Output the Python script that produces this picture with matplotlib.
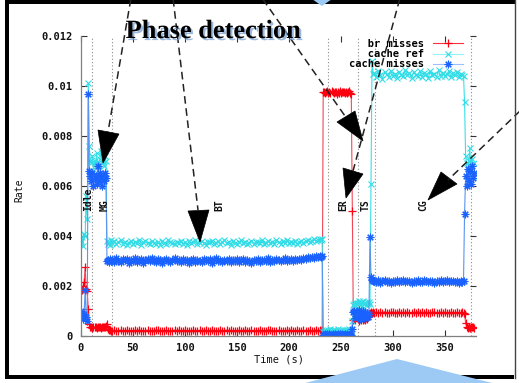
import matplotlib
matplotlib.use("Agg")
import matplotlib.pyplot as plt
from matplotlib.patches import Polygon, Rectangle
from matplotlib.lines import Line2D
import matplotlib.patheffects as pe

plt.rcParams['font.family'] = ['DejaVu Sans Mono']
plt.rcParams['font.weight'] = 'bold'

# ---------------- data (rates in units of 1e-5) ----------------
SCALE = 1e-5
time = (list(range(0, 30)) + list(range(30, 231, 2)) + list(range(231, 282))
        + list(range(282, 367, 2)) + list(range(367, 379)))

br_misses = [
    190, 185, 200, 215, 275, 190, 180, 110, 50, 38, 36, 34, 37, 35, 36, 34, 37, 35, 36, 34,
    37, 35, 36, 38, 40, 48, 30, 24, 23, 22,
    22, 23, 21, 22, 24, 22, 21, 23, 22, 22, 21, 23, 22, 24, 22, 21, 22, 23, 22, 21,
    22, 24, 23, 22, 21, 22, 23, 22, 21, 22, 23, 22, 24, 21, 22, 23, 22, 21, 22, 23,
    22, 21, 23, 22, 22, 24, 21, 22, 23, 22, 21, 22, 23, 22, 21, 24, 22, 23, 21, 22,
    22, 23, 21, 22, 24, 22, 21, 23, 22, 22, 21, 23, 22, 21, 22, 23, 24, 22, 21, 22,
    23, 22, 21, 22, 23, 22, 24, 21, 22, 23, 22, 21, 23, 22, 22, 23, 21, 22, 24, 22, 23,
    22, 23, 975,
    978, 972, 976, 980, 974, 977, 971, 979, 975, 973, 978, 976, 970, 977, 974, 979, 972,
    976, 975, 978, 973, 977, 971, 976, 979, 974, 970,
    500, 66,
    70, 64, 76, 68, 62, 74, 66, 78, 64, 70, 66, 72, 68, 76, 80,
    92, 95, 94, 96,
    94, 96, 92, 95, 93, 97, 94, 91, 95, 96, 93, 94, 97, 92, 95, 94, 96, 93, 91, 95,
    94, 97, 93, 95, 92, 96, 94, 93, 95, 97, 92, 94, 96, 93, 95, 94, 91, 96, 94, 93,
    95, 92, 94,
    95, 93, 90, 52, 36, 34, 37, 33, 36, 35, 38, 34,
]

cache_ref = [
    380, 395, 360, 410, 400, 560, 470, 1010, 760, 700, 690, 720, 660, 700, 680, 730, 690, 670, 710, 740,
    690, 700, 680, 720, 700, 380, 370, 375, 365, 385,
    372, 380, 368, 376, 383, 370, 378, 365, 374, 381, 369, 377, 372, 386, 366, 375, 379, 371, 368, 382,
    374, 370, 377, 365, 380, 373, 369, 384, 376, 371, 367, 378, 374, 381, 370, 376, 363, 379, 372, 377,
    385, 369, 374, 380, 371, 366, 378, 375, 382, 370, 373, 379, 368, 376, 384, 371, 377, 366, 380, 374,
    369, 375, 383, 372, 378, 367, 374, 381, 370, 376, 378, 371, 385, 369, 374, 380, 372, 376, 368, 383,
    375, 370, 379, 373, 386, 371, 377, 374, 380, 369, 376, 382, 374, 379, 385, 377, 381, 388, 380, 386, 390,
    384, 388, 15,
    22, 18, 26, 15, 24, 20, 28, 17, 23, 19, 25, 21, 16, 27, 22, 18, 24, 20, 26, 17,
    23, 19, 25, 21, 28, 18, 22,
    60, 125,
    128, 138, 122, 134, 142, 126, 136, 120, 140, 130, 132, 124, 138, 128, 135,
    130, 610, 1100, 1050,
    1052, 1038, 1060, 1044, 1030, 1055, 1048, 1036, 1062, 1041, 1050, 1034, 1058, 1046, 1039,
    1064, 1043, 1051, 1032, 1057, 1045, 1040, 1061, 1037, 1053, 1048, 1031, 1059, 1044, 1050,
    1036, 1063, 1042, 1054, 1039, 1047, 1060, 1035, 1052, 1043, 1058, 1038, 1049,
    1046, 1040, 935, 720, 690, 650, 700, 750, 680, 710, 640, 690,
]

cache_misses = [
    100, 80, 70, 90, 185, 75, 60, 970, 660, 640, 620, 650, 600, 630, 640, 610, 680, 620, 650, 630,
    600, 640, 620, 650, 630, 300, 305, 295, 310, 300,
    305, 298, 312, 301, 296, 308, 303, 310, 294, 306, 300, 313, 297, 304, 309, 292, 303, 307, 299, 311,
    302, 296, 308, 304, 293, 306, 310, 300, 297, 305, 312, 299, 303, 295, 308, 301, 306, 291, 304, 310,
    298, 305, 302, 296, 309, 303, 300, 307, 294, 305, 311, 299, 304, 297, 306, 302, 308, 295, 303, 300,
    307, 296, 305, 310, 298, 304, 301, 293, 306, 302, 309, 297, 303, 306, 300, 311, 296, 305, 302, 308,
    303, 299, 306, 312, 301, 305, 309, 300, 307, 303, 310, 306, 313, 308, 315, 311, 318, 314, 320, 316, 322,
    318, 322, 6,
    5, 8, 4, 7, 6, 9, 3, 6, 8, 5, 7, 4, 6, 9, 5, 7, 3, 8, 6, 5,
    7, 4, 9, 6, 5, 8, 6,
    30, 95,
    100, 72, 96, 78, 104, 70, 92, 85, 102, 74, 98, 80, 94, 76, 90,
    396, 236, 225, 220,
    220, 216, 223, 214, 219, 225, 217, 221, 213, 222, 218, 224, 215, 220, 226, 216, 219, 222, 214, 221,
    217, 223, 218, 215, 224, 220, 216, 222, 219, 213, 221, 218, 225, 216, 220, 223, 215, 219, 222, 217,
    221, 214, 220,
    218, 222, 490, 640, 600, 670, 620, 660, 610, 680, 630, 650,
]

series_labels = ["   br misses", "   cache ref", "cache misses"]
phase_names = ["Idle", "MG", "BT", "ER", "TS", "CG"]
phase_label_x = [7.2, 22.6, 133, 252.4, 274, 329]
phase_bounds = [10.6, 29.8, 237.6, 266.5, 282.7, 375]
xticks = [0, 50, 100, 150, 200, 250, 300, 350]
yticks = [0, 0.002, 0.004, 0.006, 0.008, 0.010, 0.012]
ytick_labels = ["0", "0.002", "0.004", "0.006", "0.008", "0.01", "0.012"]

# ---------------- figure ----------------
W, H = 519, 383
fig = plt.figure(figsize=(W / 100, H / 100), dpi=100)
fig.patch.set_facecolor('white')
ax = fig.add_axes([81 / W, 1 - 336 / H, (476 - 81) / W, 300 / H])

fs = 7.5
def sc(v):
    return [x * SCALE for x in v]

l1, = ax.plot(time, sc(br_misses), color='#f04858', lw=0.8, marker='+', ms=5.5,
              mec='#ff0010', mew=0.9)
l2, = ax.plot(time, sc(cache_ref), color='#38e0e8', lw=0.8, marker='x', ms=4.8,
              mec='#30dce6', mew=0.8)
l3, = ax.plot(time, sc(cache_misses), color='#5a94f0', lw=0.8, marker=(8, 2, 0), ms=5.5,
              mec='#1a62ff', mew=0.8)

for xb in phase_bounds:
    ax.axvline(xb, color='#8a8a8a', ls=(0, (1, 2)), lw=0.8, zorder=0)

for name, xl in zip(phase_names, phase_label_x):
    ax.text(xl, 0.005, name, rotation=90, ha='center', va='bottom', fontsize=fs - 0.5,
            color='#111')

ax.set_xlim(0, 380)
ax.set_ylim(0, 0.012)
ax.set_xticks(xticks)
ax.set_yticks(yticks)
ax.set_yticklabels(ytick_labels)
for s in ['top', 'right']:
    ax.spines[s].set_visible(False)
for s in ['left', 'bottom']:
    ax.spines[s].set_color('#808080')
    ax.spines[s].set_linewidth(0.9)
ax.tick_params(direction='in', length=4, width=0.8, color='#333', top=True, right=True,
               labelsize=fs, labelcolor='#111')
ax.tick_params(axis='y', pad=6)
ax.tick_params(axis='x', pad=5)

ax.set_xlabel("Time (s)", fontsize=fs, color='#111')
ax.xaxis.label.set_va('center')
ax.xaxis.set_label_coords(0.5, -0.08)
ax.set_ylabel("Rate", fontsize=fs - 0.5, color='#111')
ax.yaxis.label.set_va('center')
ax.yaxis.set_label_coords(-0.155, 0.487)

leg = ax.legend([l1, l2, l3], series_labels, loc='upper right',
                bbox_to_anchor=(463 / W, 1 - 39 / H), bbox_transform=fig.transFigure,
                frameon=False, markerfirst=False, handlelength=2.9, handletextpad=0.8,
                labelspacing=0.02, borderpad=0, borderaxespad=0,
                prop={'family': 'DejaVu Sans Mono', 'weight': 'bold', 'size': fs})
leg.legend_handles[0].set_color('#ff3040')
leg.legend_handles[1].set_color('#90f4f4')
leg.legend_handles[2].set_color('#9cc0ff')

# ---------------- slide overlay ----------------
ov = fig.add_axes([0, 0, 1, 1], zorder=10)
ov.set_xlim(0, W)
ov.set_ylim(H, 0)
ov.axis('off')
ov.patch.set_alpha(0)

fig.text(213 / W, 1 - 38 / H, "Phase detection", family='Liberation Serif', weight='bold',
         fontsize=19, ha='center', va='baseline', color='black', zorder=20,
         path_effects=[pe.withSimplePatchShadow(offset=(1.5, -1.5), shadow_rgbFace='#6f9ad0',
                                                alpha=0.7)])

arrows = [
    ((131, -2), (108, 132), [(98, 130), (119, 134), (103, 163)]),
    ((173, -2), (198, 210), [(188, 211), (209, 210), (200, 242)]),
    ((262, -2), (345, 116), [(337, 122), (355, 111), (363, 141)]),
    ((400, -2), (353, 171), [(343, 168), (363, 174), (346, 198)]),
    ((521, 110), (448, 180), [(441, 172), (457, 184), (428, 200)]),
]
for (x0, y0), (x1, y1), head in arrows:
    ov.add_line(Line2D([x0, x1], [y0, y1], color='#222', lw=1.1, ls=(0, (5, 3))))
    ov.add_patch(Polygon(head, closed=True, facecolor='black', edgecolor='black', lw=0.5))

# frame
ov.add_patch(Rectangle((5, 0), 511, 4, facecolor='black', edgecolor='none'))
ov.add_patch(Rectangle((5, 0), 4, 378, facecolor='black', edgecolor='none'))
ov.add_patch(Rectangle((5, 375), 509, 4, facecolor='black', edgecolor='none'))
ov.add_line(Line2D([514.5, 514.5], [0, 378], color='#444', lw=1.0))

# blue pointer triangles
ov.add_patch(Polygon([(312, -1), (332, -1), (322, 6)], closed=True, facecolor='#9ccaf4',
                     edgecolor='none'))
ov.add_patch(Polygon([(290, 387), (397, 359), (508, 387)], closed=True, facecolor='#9ccaf4',
                     edgecolor='none'))

fig.savefig("out.png", dpi=100)
